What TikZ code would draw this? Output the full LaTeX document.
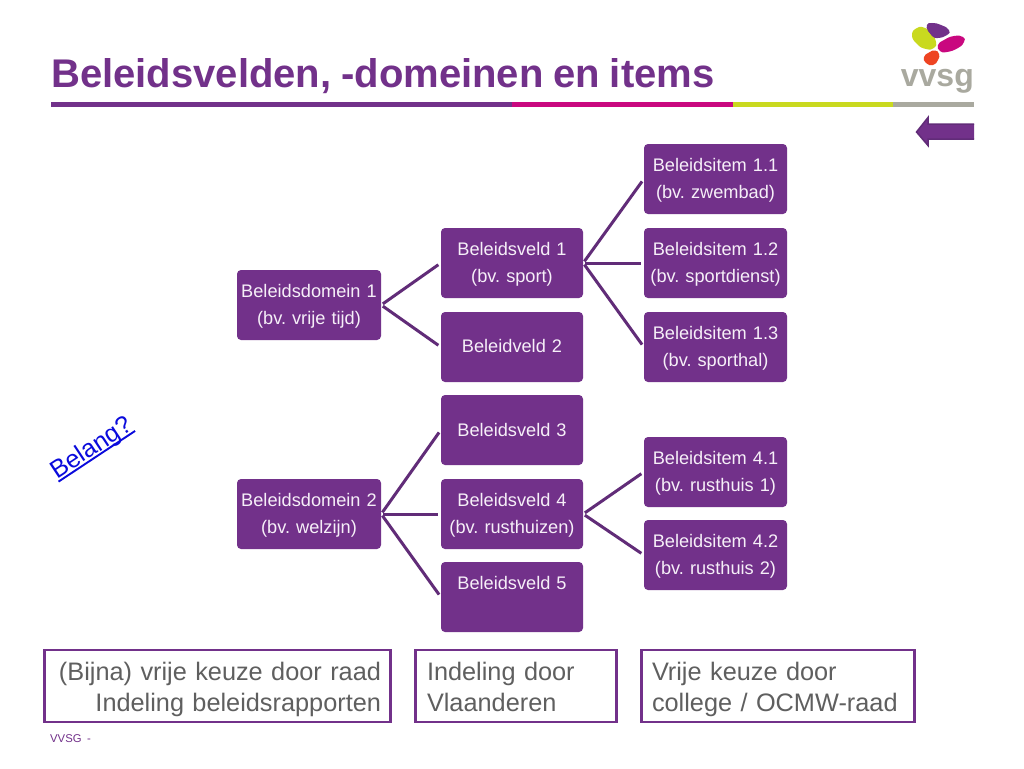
\documentclass[tikz,border=0pt]{standalone}
\usepackage{fontspec}
\setmainfont[WordSpace=0.88]{Liberation Sans}
\AtBeginDocument{\frenchspacing}
\definecolor{vpurple}{HTML}{72318A}
\definecolor{vline}{HTML}{612C78}
\definecolor{vmag}{HTML}{C9087F}
\definecolor{vlime}{HTML}{C9D91F}
\definecolor{vgrey}{HTML}{A9A99F}
\definecolor{vtext}{HTML}{5F5F5F}
\definecolor{vwhite}{HTML}{F6EFF8}
\definecolor{vorange}{HTML}{EE4422}
\definecolor{vblue}{HTML}{0A0ADC}
\newcommand\linkline[1]{\setbox0\hbox{#1}\rlap{\rule[-3.2pt]{\wd0}{1.9pt}}\box0}
\tikzset{
 x=1pt,y=-1pt,
 orgbox/.style={draw=none,fill=vpurple,rounded corners=4pt,text=vwhite,align=center,inner sep=0pt,
   font=\fontsize{18.2}{27}\selectfont,minimum height=70pt,text height=14pt,text depth=30pt,text width=142pt},
 oneline/.style={text height=25pt,text depth=15pt},
 domainbox/.style={orgbox,minimum width=144pt},
 fieldbox/.style={orgbox,minimum width=142pt},
 itembox/.style={orgbox,minimum width=143pt},
 link/.style={draw=vline,line width=3pt,shorten >=3pt,shorten <=2pt},
 notebox/.style={draw=vpurple,line width=2.8pt,fill=white,text=vtext,inner sep=0pt,minimum height=72pt,
   font=\fontsize{25.3}{31}\selectfont,text height=20pt,text depth=32pt}
}
\begin{document}
\begin{tikzpicture}
\useasboundingbox (0,0) rectangle (1024,768);
\fill[white] (0,0) rectangle (1024,768);
\node[anchor=base west,text=vpurple,inner sep=0pt,font=\fontsize{40.03}{44}\selectfont\bfseries] (title) at (51,87) {Beleidsvelden, -domeinen en items};
\fill[vpurple] (51,102) rectangle (512,107);
\fill[vmag] (512,102) rectangle (733,107);
\fill[vlime] (733,102) rectangle (893,107);
\fill[vgrey] (893,102) rectangle (974,107);
% logo
\fill[vlime] plot[smooth cycle,tension=0.9] coordinates {(912,35)(917,28)(925,28)(932,34)(936,42)(934,48)(926,49)(917,44)};
\fill[vpurple] plot[smooth cycle,tension=0.9] coordinates {(927,25)(932,23)(941,25)(949,30)(947,35)(938,38)(932,36)(928,31)};
\fill[vmag] plot[smooth cycle,tension=0.9] coordinates {(938,45)(944,40)(954,36)(963,37)(964,42)(958,48)(947,52)(940,51)};
\fill[vorange] plot[smooth cycle,tension=0.9] coordinates {(924,57)(929,52.5)(935,50.5)(939,54)(938,60)(933,65)(926,63)};
\node[anchor=base east,text=vgrey,inner sep=0pt,font=\fontsize{32}{32}\selectfont\bfseries] (logotext) at (974,86) {vvsg};
% back arrow
\draw[fill=vpurple,draw=vline,line width=1.5pt] (974,124) -- (928,124) -- (928,117.5) -- (916.5,132) -- (928,145.5) -- (928,139) -- (974,139);
% boxes
\node[domainbox] (d1) at (309,305) {Beleidsdomein 1\\(bv. vrije tijd)};
\node[domainbox] (d2) at (309,514) {Beleidsdomein 2\\(bv. welzijn)};
\node[fieldbox] (v1) at (512,263) {Beleidsveld 1\\(bv. sport)};
\node[fieldbox,oneline] (v2) at (512,347) {Beleidveld 2};
\node[fieldbox,text height=26pt,text depth=14pt] (v3) at (512,430) {Beleidsveld 3};
\node[fieldbox] (v4) at (512,514) {Beleidsveld 4\\(bv. rusthuizen)};
\node[fieldbox,text height=15pt,text depth=31pt] (v5) at (512,597) {Beleidsveld 5};
\node[itembox] (i11) at (715.5,179) {Beleidsitem 1.1\\(bv. zwembad)};
\node[itembox] (i12) at (715.5,263) {Beleidsitem 1.2\\(bv. sportdienst)};
\node[itembox] (i13) at (715.5,347) {Beleidsitem 1.3\\(bv. sporthal)};
\node[itembox] (i41) at (715.5,472) {Beleidsitem 4.1\\(bv. rusthuis 1)};
\node[itembox] (i42) at (715.5,555) {Beleidsitem 4.2\\(bv. rusthuis 2)};
% connectors
\foreach \a/\b in {d1/v1,d1/v2,d2/v3,d2/v4,d2/v5,v1/i11,v1/i12,v1/i13,v4/i41,v4/i42}
  \draw[link] (\a.east) -- (\b.west);
% link text
\node[rotate=33.5,text=vblue,inner sep=0pt,font=\fontsize{25}{30}\selectfont] (belang) at (92,449) {\linkline{Belang?}};
% notes
\node[notebox,minimum width=346pt,align=right,text width=327pt] (n1) at (217.5,686) {(Bijna) vrije keuze door raad\\Indeling beleidsrapporten};
\node[notebox,minimum width=201pt,align=left,text width=178pt] (n2) at (516,686) {Indeling door\\Vlaanderen};
\node[notebox,minimum width=273pt,align=left,text width=252pt] (n3) at (778,686) {Vrije keuze door\\college / OCMW-raad};
\node[anchor=west,text=vpurple,inner sep=0pt,font=\fontsize{11.3}{13}\selectfont] (foot) at (50,739) {VVSG\ \ -};
\end{tikzpicture}
\end{document}
